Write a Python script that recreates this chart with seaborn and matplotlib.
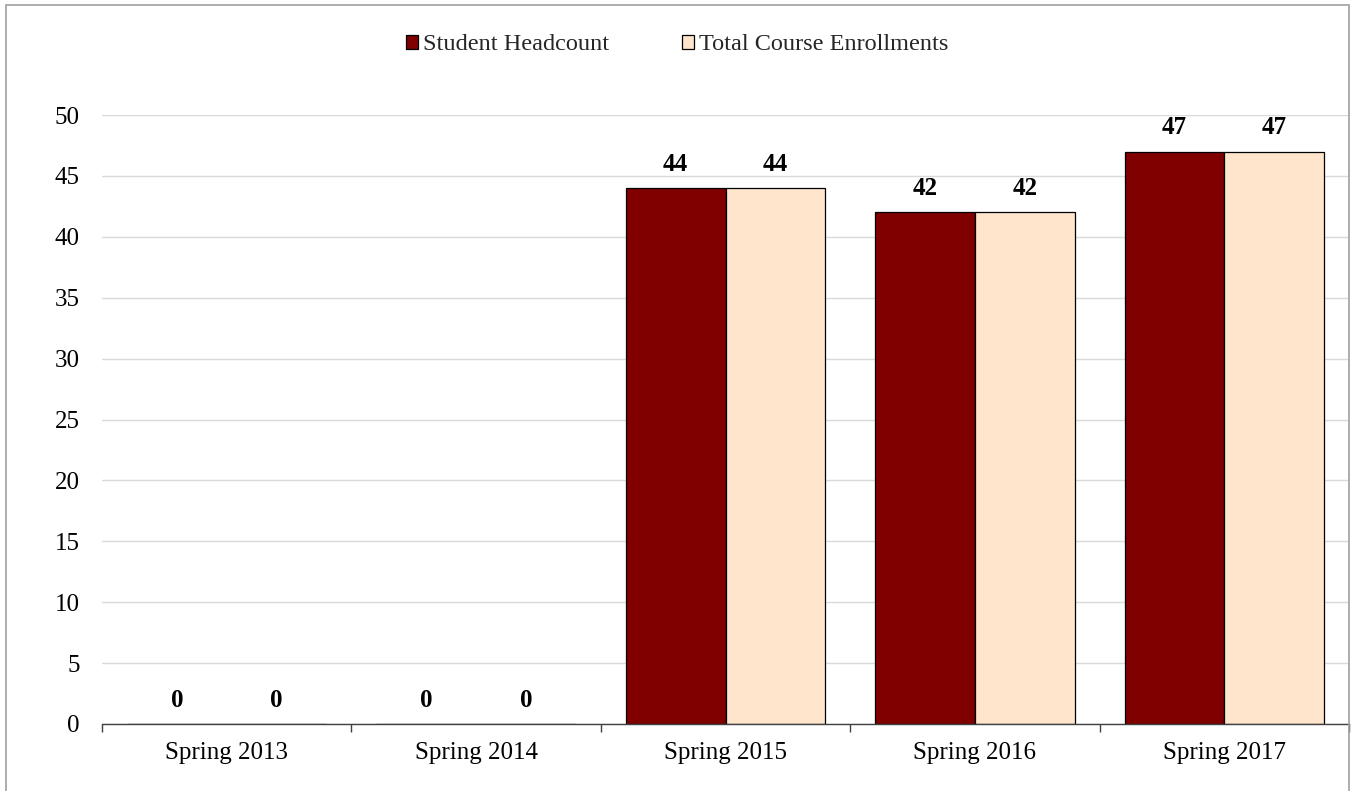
import matplotlib
matplotlib.use("Agg")
import matplotlib.pyplot as plt
import seaborn as sns
import pandas as pd
import numpy as np
from matplotlib.patches import Rectangle

terms = ["Spring 2013", "Spring 2014", "Spring 2015", "Spring 2016", "Spring 2017"]
headcount = [0, 0, 44, 42, 47]
enrollments = [0, 0, 44, 42, 47]
series = ["Student Headcount", "Total Course Enrollments"]
colors = ["#800000", "#FFE5CC"]

df = pd.DataFrame({
    "Term": terms * 2,
    "Value": headcount + enrollments,
    "Series": [series[0]] * len(terms) + [series[1]] * len(terms),
})

sns.set_theme(style="white")
plt.rcParams["font.family"] = ["Liberation Serif", "DejaVu Serif"]

W, H = 1354, 791
fig = plt.figure(figsize=(W / 100, H / 100), dpi=100)
ax = fig.add_axes([102 / W, 1 - 724 / H, (1349 - 102) / W, (724 - 115) / H])

sns.barplot(data=df, x="Term", y="Value", hue="Series", palette=colors,
            order=terms, hue_order=series, width=0.8, edgecolor="black",
            linewidth=0.9, saturation=1, ax=ax, legend=True)

ax.set_xlim(-0.5, len(terms) - 0.5)
ax.set_ylim(0, 50)
ax.set_yticks(np.arange(0, 51, 5))
ax.yaxis.grid(True, color="#d9d9d9", linewidth=1)
ax.set_axisbelow(True)
ax.set_xlabel("")
ax.set_ylabel("")
for s in ["top", "right", "left"]:
    ax.spines[s].set_visible(False)
ax.spines["bottom"].set_color("#404040")
ax.spines["bottom"].set_linewidth(1)
ax.tick_params(axis="y", length=0, pad=16, labelsize=18, colors="black")
ax.tick_params(axis="x", which="major", length=0, pad=13, labelsize=18, colors="black")
ax.set_xticks(np.arange(-0.5, len(terms), 1.0), minor=True)
ax.tick_params(axis="x", which="minor", bottom=True, length=6, width=1,
               color="#404040", direction="out")

for cont in ax.containers:
    for bar in cont:
        h = bar.get_height()
        ax.annotate(f"{int(round(h))}", (bar.get_x() + bar.get_width() / 2, h),
                    xytext=(0, 17), textcoords="offset points", ha="center",
                    va="center", fontsize=18, fontweight="bold", color="black")

handles, labels = ax.get_legend_handles_labels()
ax.legend(handles, labels, loc="center", bbox_to_anchor=(677 / W, 1 - 45 / H),
          bbox_transform=fig.transFigure, ncol=2, frameon=False, fontsize=17.5,
          handlelength=0.5, handleheight=0.5, handletextpad=0.2,
          columnspacing=3.0)

fig.patches.append(Rectangle((6 / W, -0.01), (1349 - 6) / W, 1.01 - 5 / H,
                             transform=fig.transFigure, fill=False,
                             edgecolor="#a0a0a0", linewidth=1.2))

fig.savefig("out.png", dpi=100, facecolor="white")
